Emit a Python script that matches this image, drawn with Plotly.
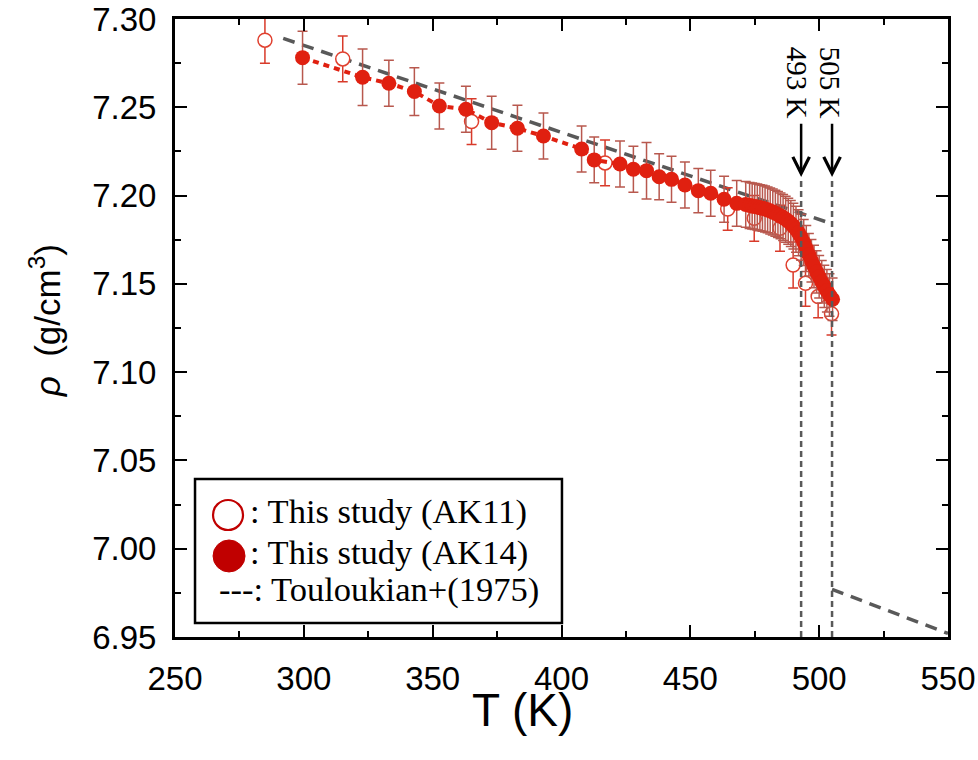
import plotly.graph_objects as go

# ---------------- data ----------------
# AK11 (open circles)
ak11_T = [284.9, 315.1, 365.1, 416.9, 464.5, 474.8, 484.8, 489.9, 494.7, 499.6, 504.8]
ak11_rho = [7.2880, 7.2774, 7.2419, 7.2185, 7.1924, 7.1871, 7.1815, 7.1607, 7.1503, 7.1428, 7.1330]
ak11_err = [0.013, 0.013, 0.013, 0.013, 0.012, 0.013, 0.013, 0.013, 0.013, 0.012, 0.012]

# AK14 (filled circles)
ak14_T = [299.5, 322.8, 333.0, 342.9, 352.6, 362.9, 372.9, 382.9, 393.0, 407.8,
          412.7, 422.7, 427.9, 433.0, 437.9, 442.7, 447.9, 453.1, 457.9, 463.1,
          468.0, 471.5, 473.0, 474.0, 475.0, 476.0, 477.0, 478.0, 479.0, 480.0,
          481.0, 482.0, 483.0, 484.0, 485.0, 486.0, 487.0, 488.0, 489.0, 490.0,
          491.0, 492.0, 493.0, 494.0, 495.0, 496.0, 497.0, 498.0, 499.0, 500.0,
          501.0, 502.0, 503.0, 504.0, 505.2]
ak14_rho = [7.2781, 7.2670, 7.2636, 7.2589, 7.2507, 7.2489, 7.2413, 7.2381, 7.2337, 7.2264,
            7.2202, 7.2179, 7.2149, 7.2141, 7.2107, 7.2092, 7.2060, 7.2028, 7.2013, 7.1979,
            7.1956, 7.1950, 7.1944, 7.1941, 7.1938, 7.1935, 7.1931, 7.1928, 7.1924, 7.1919,
            7.1913, 7.1907, 7.1900, 7.1893, 7.1885, 7.1876, 7.1866, 7.1855, 7.1842, 7.1827,
            7.1809, 7.1789, 7.1764, 7.1734, 7.1700, 7.1665, 7.1631, 7.1598, 7.1568, 7.1540,
            7.1512, 7.1486, 7.1461, 7.1437, 7.1413]
ak14_err = [0.015, 0.016, 0.013, 0.0135, 0.013, 0.013, 0.015, 0.013, 0.013, 0.013,
            0.013, 0.013, 0.013, 0.016, 0.013, 0.013, 0.013, 0.0125, 0.013, 0.013,
            0.013, 0.013, 0.013, 0.013, 0.013, 0.013, 0.013, 0.013, 0.013, 0.013,
            0.013, 0.013, 0.013, 0.013, 0.013, 0.013, 0.013, 0.013, 0.013, 0.013,
            0.013, 0.013, 0.013, 0.013, 0.013, 0.012, 0.012, 0.012, 0.012, 0.012,
            0.012, 0.012, 0.012, 0.012, 0.012]

# Touloukian+ (1975)
tl_solid_T = [292.0, 505.0]
tl_solid_rho = [7.289, 7.184]
tl_liquid_T = [505.0, 550.0]
tl_liquid_rho = [6.977, 6.952]

# transition temperatures
trans_T = [493, 505]
trans_labels = ["493 K", "505 K"]
trans_top = 7.2105      # arrow tip / top of dashed line
arrow_start = 7.2415
label_y = 7.2638

# legend texts
legend_texts = [": This study (AK11)", ": This study (AK14)", "---: Touloukian+(1975)"]

RED = "#e02010"
GRAY = "#595959"
SERIF = "Liberation Serif"
SANS = "Liberation Sans"

fig = go.Figure()

fig.add_trace(go.Scatter(x=tl_solid_T, y=tl_solid_rho, mode="lines",
                         line=dict(color=GRAY, width=3.5, dash="12px,8px"),
                         showlegend=False, hoverinfo="skip"))
fig.add_trace(go.Scatter(x=tl_liquid_T, y=tl_liquid_rho, mode="lines",
                         line=dict(color=GRAY, width=3.5, dash="12px,8px"),
                         showlegend=False, hoverinfo="skip"))

fig.add_trace(go.Scatter(x=ak11_T, y=ak11_rho, mode="markers",
                         marker=dict(symbol="circle", size=14, color="white",
                                     line=dict(color="#e0402f", width=1.5)),
                         error_y=dict(type="data", array=ak11_err, color="#d83a2a",
                                      thickness=1.5, width=5),
                         showlegend=False))

fig.add_trace(go.Scatter(x=ak14_T, y=ak14_rho, mode="lines",
                         line=dict(color=RED, width=4, dash="6px,5px"),
                         showlegend=False, hoverinfo="skip"))
fig.add_trace(go.Scatter(x=ak14_T, y=ak14_rho, mode="markers",
                         marker=dict(symbol="circle", size=15, color=RED),
                         error_y=dict(type="data", array=ak14_err, color="#b8584e",
                                      thickness=1.5, width=5),
                         showlegend=False))

shapes = []
annotations = []
for T, lab, xs in zip(trans_T, trans_labels, [-4, -2]):
    shapes.append(dict(type="line", xref="x", yref="y", x0=T, x1=T, y0=6.95, y1=trans_top,
                       line=dict(color=GRAY, width=2.5, dash="6px,4px")))
    annotations.append(dict(x=T, y=trans_top, ax=T, ay=arrow_start, xref="x", yref="y",
                            axref="x", ayref="y", text="", showarrow=True,
                            arrowhead=5, arrowsize=1.3, arrowwidth=2.5, arrowcolor="black"))
    annotations.append(dict(x=T, y=label_y, xref="x", yref="y", text=lab, textangle=90,
                            showarrow=False, xshift=xs,
                            font=dict(family=SERIF, size=29, color="black")))

# legend box (paper coordinates)
shapes.append(dict(type="rect", xref="paper", yref="paper", x0=0.0259, x1=0.5006,
                   y0=0.0227, y1=0.2557, line=dict(color="black", width=2.5),
                   fillcolor="white", layer="above"))
shapes.append(dict(type="circle", xref="paper", yref="paper", xsizemode="pixel",
                   ysizemode="pixel", xanchor=0.0686, yanchor=0.1974,
                   x0=-15, x1=15, y0=-15, y1=15, line=dict(color="#c00000", width=2.2),
                   fillcolor="white", layer="above"))
shapes.append(dict(type="circle", xref="paper", yref="paper", xsizemode="pixel",
                   ysizemode="pixel", xanchor=0.0699, yanchor=0.1311,
                   x0=-16, x1=16, y0=-16, y1=16, line=dict(color="#c00000", width=1),
                   fillcolor="#c00000", layer="above"))
for txt, lx, ly in zip(legend_texts, [0.0944, 0.0944, 0.0543], [0.2023, 0.1375, 0.0761]):
    annotations.append(dict(x=lx, y=ly, xref="paper", yref="paper", text=txt,
                            xanchor="left", yanchor="middle", showarrow=False,
                            font=dict(family=SERIF, size=34.5, color="black")))

# axis titles
annotations.append(dict(x=0.449, y=-0.118, xref="paper", yref="paper", text="T (K)",
                        showarrow=False, xanchor="center", yanchor="middle",
                        font=dict(family=SANS, size=46, color="black")))
annotations.append(dict(x=-0.168, y=0.511, xref="paper", yref="paper",
                        text="<i>ρ</i>  (g/cm<sup>3</sup>)", textangle=-90,
                        showarrow=False, xanchor="center", yanchor="middle",
                        font=dict(family=SANS, size=35, color="black")))

axis_common = dict(showgrid=False, zeroline=False, showline=True, linewidth=3,
                   linecolor="black", mirror="allticks", ticks="inside", ticklen=12,
                   tickwidth=2, tickcolor="black", automargin=False,
                   ticklabeloverflow="allow",
                   tickfont=dict(family=SANS, size=33, color="black"))

fig.update_layout(
    width=978, height=760,
    margin=dict(l=175, r=30, t=19, b=123, autoexpand=False),
    plot_bgcolor="white", paper_bgcolor="white",
    showlegend=False,
    xaxis=dict(range=[250, 550], tick0=250, dtick=50,
               minor=dict(ticks="inside", ticklen=6, tickwidth=2, dtick=25, tickcolor="black"),
               ticklabelstandoff=10, **axis_common),
    yaxis=dict(range=[6.95, 7.30], tick0=6.95, dtick=0.05, tickformat=".2f",
               minor=dict(ticks="inside", ticklen=6, tickwidth=2, dtick=0.025, tickcolor="black"),
               ticklabelstandoff=9, **axis_common),
    shapes=shapes,
    annotations=annotations,
)

# remove the default page margin so the 978x760 figure fills the window exactly
fig.write_html("out.html", config={"displayModeBar": False},
               post_script="document.body.style.margin='0';document.body.style.overflow='hidden';")
